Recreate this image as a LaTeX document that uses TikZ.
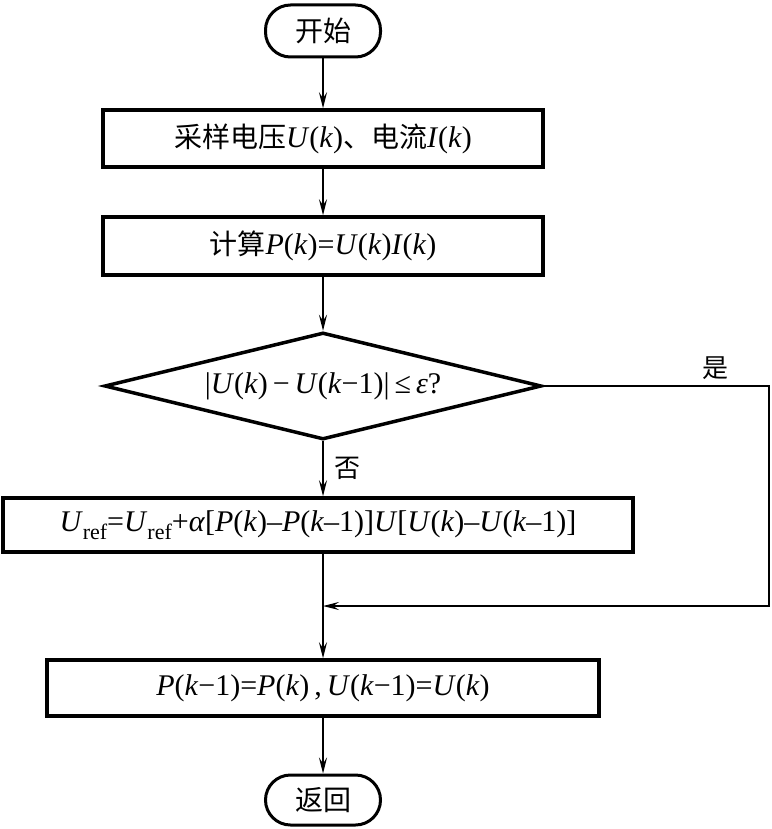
\documentclass[tikz,border=0pt]{standalone}
\usepackage{fontspec}
\setmainfont{Liberation Serif}
\newfontfamily\cjk{Noto Sans CJK SC}
\usetikzlibrary{shapes.geometric,arrows.meta}
\newcommand\vv[1]{\textit{#1}}
\newcommand\Uref{\vv{U}\raisebox{-0.28em}{\fontsize{22}{22}\selectfont ref}}
\begin{document}
\begin{tikzpicture}[x=1pt,y=-1pt,
  box/.style={draw, line width=3.5pt, rectangle, inner sep=0pt, font=\fontsize{30}{34}\selectfont},
  term/.style={box, rounded corners=25pt, line width=3pt},
  dia/.style={draw, diamond, aspect=4, inner sep=0pt, line width=3.5pt, font=\fontsize{30}{34}\selectfont},
  conn/.style={line width=1.3pt, -{Stealth[length=16pt,width=8pt,inset=6pt]}},
  lab/.style={font=\cjk\fontsize{26}{30}\selectfont, inner sep=0pt}]
\useasboundingbox (0,0) rectangle (771,829);
\node[term, minimum width=115pt, minimum height=52pt] (start) at (323,31) {\cjk\fontsize{28}{32}\selectfont 开始};
\node[box, minimum width=440pt, minimum height=57pt] (b1) at (323,138.5)
  {{\cjk\fontsize{28}{32}\selectfont 采样电压}\vv{U}(\vv{k}){\cjk\fontsize{28}{32}\selectfont 、电流}\vv{I}(\vv{k})};
\node[box, minimum width=440pt, minimum height=58pt] (b2) at (323,246)
  {{\cjk\fontsize{28}{32}\selectfont 计算}\vv{P}(\vv{k})=\vv{U}(\vv{k})\vv{I}(\vv{k})};
\node[dia, minimum width=437pt, minimum height=107pt] (d) at (323,386)
  {|\vv{U}(\vv{k})\,−\,\vv{U}(\vv{k}−1)|\,≤\,\textit{ε}?};
\node[box, minimum width=630pt, minimum height=54pt] (b3) at (318,525)
  {\Uref=\Uref+\textit{α}[\vv{P}(\vv{k})–\vv{P}(\vv{k}–1)]\vv{U}[\vv{U}(\vv{k})–\vv{U}(\vv{k}–1)]};
\node[box, minimum width=552pt, minimum height=56pt] (b4) at (323,688)
  {\vv{P}(\vv{k}−1)=\vv{P}(\vv{k})\,,\,\vv{U}(\vv{k}−1)=\vv{U}(\vv{k})};
\node[term, minimum width=115pt, minimum height=50pt] (end) at (323,800) {\cjk\fontsize{28}{32}\selectfont 返回};
\coordinate (right) at (769,386);
\coordinate (merge) at (323,606);
\node[lab] (yes) at (715,368) {是};
\node[lab] (no) at (347,468) {否};
\draw[conn] (start) -- (b1);
\draw[conn] (b1) -- (b2);
\draw[conn] (b2) -- (d);
\draw[conn] (d.south) -- (d.south |- b3.north);
\draw[conn] (d.east) -- (right) |- (merge);
\draw[conn] (merge |- b3.south) -- (b4.north);
\draw[conn] (b4) -- (end);
\end{tikzpicture}
\end{document}
